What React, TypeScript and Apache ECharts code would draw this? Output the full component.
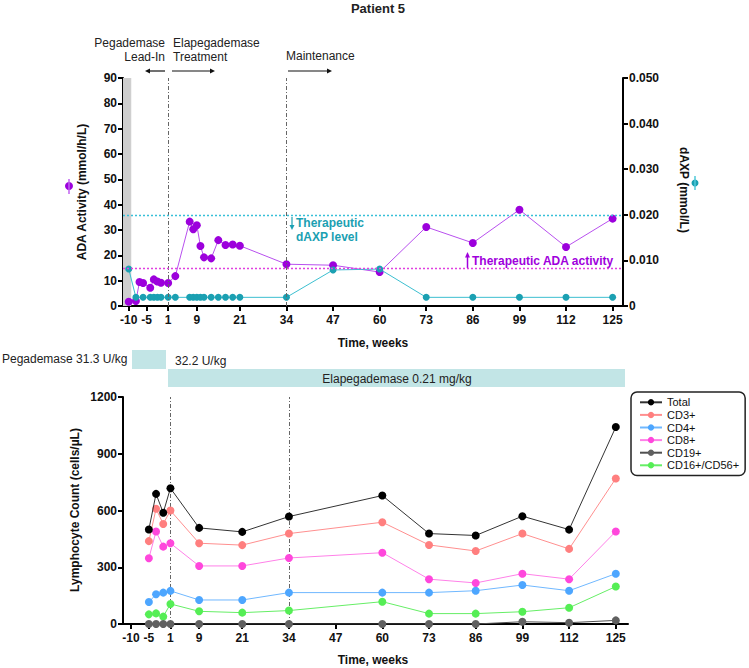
import React, { useEffect, useRef } from "react";
import * as echarts from "echarts";

const weekTicks = [-10, -5, 1, 9, 21, 34, 47, 60, 73, 86, 99, 112, 125];

const adaWeeks = [-10, -8, -7, -6, -4, -3, -2, -1, 1, 3, 7, 8, 9, 10, 11, 13, 15, 17, 19, 21, 34, 47, 60, 73, 86, 99, 112, 125];
const adaValues = [1.7, 2.0, 9.5, 9.1, 7.2, 10.5, 9.7, 9.2, 9.1, 11.8, 33.3, 30.3, 31.9, 23.7, 19.2, 18.8, 26.0, 24.1, 24.3, 23.8, 16.5, 16.1, 13.4, 31.2, 24.9, 38.0, 23.3, 34.5];

const daxpWeeks = [-10, -8, -6, -4, -3, -2, -1, 1, 3, 7, 8, 9, 10, 11, 13, 15, 17, 19, 21, 34, 47, 60, 73, 86, 99, 112, 125];
const daxpValues = [0.0081, 0.0019, 0.0019, 0.0019, 0.0019, 0.0019, 0.0019, 0.0019, 0.0019, 0.0019, 0.0019, 0.0019, 0.0019, 0.0019, 0.0019, 0.0019, 0.0019, 0.0019, 0.0019, 0.0019, 0.0079, 0.0081, 0.0019, 0.0019, 0.0019, 0.0019, 0.0019];

const lymWeeks = [-5, -3, -1, 1, 9, 21, 34, 60, 73, 86, 99, 112, 125];
const totalCounts = [500, 688, 588, 718, 508, 487, 568, 679, 478, 468, 570, 499, 1041];
const cd3Counts = [438, 609, 529, 600, 427, 417, 478, 538, 418, 386, 478, 397, 769];
const cd4Counts = [116, 157, 166, 175, 127, 127, 166, 166, 166, 176, 206, 176, 266];
const cd8Counts = [348, 489, 409, 427, 307, 307, 349, 377, 237, 217, 266, 237, 489];
const cd19Counts = [0, 0, 0, 0, 0, 0, 0, 0, 0, 0, 12, 7, 19];
const cd16Counts = [51, 56, 39, 106, 67, 60, 71, 118, 55, 55, 65, 86, 198];

const lymSeries = [
  { name: "Total", data: totalCounts, color: "#000000", line: "#333333" },
  { name: "CD3+", data: cd3Counts, color: "#ff7f7f", line: "#ff8f8f" },
  { name: "CD4+", data: cd4Counts, color: "#4da6ff", line: "#70b8ff" },
  { name: "CD8+", data: cd8Counts, color: "#ff47dc", line: "#ff80e8" },
  { name: "CD19+", data: cd19Counts, color: "#606060", line: "#505050" },
  { name: "CD16+/CD56+", data: cd16Counts, color: "#55ee55", line: "#66ee66" },
];

const FONT = "'Liberation Sans Narrow', 'Liberation Sans', Arial, sans-serif";
const FONT2 = "'Liberation Sans', Arial, sans-serif";

const zip = (xs: number[], ys: number[]) => xs.map((x, i) => [x, ys[i]]);

export default function App() {
  const ref = useRef<HTMLDivElement>(null);
  useEffect(() => {
    if (!ref.current) return;
    const chart = echarts.init(ref.current, null, { renderer: "svg" });
    const axisLabelStyle = { fontFamily: FONT, fontWeight: "bold" as const, fontSize: 12, color: "#111" };
    const vline = (x: number) => ({ xAxis: x });
    const dashDot = { type: [4, 2, 1, 2], color: "#666", width: 1 };
    const xAxisCommon = {
      type: "value",
      axisLine: { show: true, onZero: false, lineStyle: { color: "#000", width: 2 } },
      axisTick: { show: true, customValues: weekTicks, length: 5, lineStyle: { color: "#000", width: 2 } },
      axisLabel: { ...axisLabelStyle, customValues: weekTicks, margin: 8 },
      splitLine: { show: false },
    };
    const yCommon = {
      type: "value",
      axisLine: { show: true, onZero: false, lineStyle: { color: "#000", width: 2 } },
      axisTick: { show: true, length: 5, lineStyle: { color: "#000", width: 2 } },
      axisLabel: { ...axisLabelStyle, margin: 6, formatter: (v: number) => String(v) },
      splitLine: { show: false },
    };
    const option: any = {
      animation: false,
      title: {
        text: "Patient 5",
        left: 373,
        top: -3,
        textAlign: "center",
        textStyle: { fontFamily: FONT2, fontSize: 13, fontWeight: "bold", color: "#222" },
      },
      legend: {
        data: lymSeries.map((s) => s.name),
        orient: "vertical",
        left: 631,
        top: 392,
        itemGap: 0,
        itemWidth: 22,
        itemHeight: 8,
        padding: [4, 6, 4, 8],
        borderColor: "#222",
        borderWidth: 1.5,
        borderRadius: 6,
        textStyle: { fontFamily: FONT2, fontSize: 11, color: "#111", lineHeight: 12.6 },
      },
      grid: [
        { left: 123, top: 78, width: 500, height: 228 },
        { left: 123, top: 397, width: 505, height: 227 },
      ],
      xAxis: [
        { ...xAxisCommon, gridIndex: 0, min: -11.6, max: 127.9 },
        { ...xAxisCommon, gridIndex: 1, min: -12.2, max: 128.4 },
      ],
      yAxis: [
        { ...yCommon, gridIndex: 0, min: 0, max: 90, interval: 10 },
        {
          ...yCommon,
          gridIndex: 0,
          position: "right",
          min: 0,
          max: 0.05,
          interval: 0.01,
          axisLabel: { ...axisLabelStyle, margin: 6, formatter: (v: number) => (v === 0 ? "0" : v.toFixed(3)) },
        },
        { ...yCommon, gridIndex: 1, min: 0, max: 1200, interval: 300 },
      ],
      series: [
        {
          name: "ADA",
          type: "line",
          xAxisIndex: 0,
          yAxisIndex: 0,
          data: zip(adaWeeks, adaValues),
          symbol: "circle",
          symbolSize: 8,
          itemStyle: { color: "#9c00dc" },
          lineStyle: { color: "#b850ee", width: 1 },
          markArea: {
            silent: true,
            itemStyle: { color: "#cfcfcf" },
            data: [[{ xAxis: -11.6 }, { xAxis: -9.3 }]],
          },
          markLine: {
            silent: true,
            symbol: "none",
            label: { show: false },
            data: [
              { ...vline(1), lineStyle: dashDot },
              { ...vline(34), lineStyle: dashDot },
              { yAxis: 15, lineStyle: { type: [2, 2], color: "#e040e0", width: 1.4 } },
              { yAxis: 36, lineStyle: { type: [2, 2], color: "#38c0d8", width: 1.4 } },
            ],
          },
          z: 3,
        },
        {
          name: "dAXP",
          type: "line",
          xAxisIndex: 0,
          yAxisIndex: 1,
          data: zip(daxpWeeks, daxpValues),
          symbol: "circle",
          symbolSize: 7,
          itemStyle: { color: "#1ba0b2" },
          lineStyle: { color: "#3cbfd0", width: 1 },
          z: 4,
        },
        ...lymSeries.map((s, i) => ({
          name: s.name,
          type: "line",
          xAxisIndex: 1,
          yAxisIndex: 2,
          data: zip(lymWeeks, s.data),
          symbol: "circle",
          symbolSize: 8,
          itemStyle: { color: s.color },
          lineStyle: { color: s.line, width: 1 },
          z: 10 - i,
          ...(i === 0
            ? {
                markLine: {
                  silent: true,
                  symbol: "none",
                  label: { show: false },
                  data: [
                    { ...vline(1), lineStyle: dashDot },
                    { ...vline(34), lineStyle: dashDot },
                  ],
                },
              }
            : {}),
        })),
      ],
      graphic: [
        // top annotations
        { type: "text", x: 165, y: 36, style: { text: "Pegademase\nLead-In", align: "right", font: `12px ${FONT2}`, fill: "#222", lineHeight: 14 } },
        { type: "text", x: 173, y: 36, style: { text: "Elapegademase\nTreatment", align: "left", font: `12px ${FONT2}`, fill: "#222", lineHeight: 14 } },
        { type: "text", x: 286, y: 50, style: { text: "Maintenance", align: "left", font: `12px ${FONT2}`, fill: "#222" } },
        { type: "line", shape: { x1: 165, y1: 71, x2: 149, y2: 71 }, style: { stroke: "#111", lineWidth: 1.2 } },
        { type: "polygon", shape: { points: [[145, 71], [150, 68.5], [150, 73.5]] }, style: { fill: "#111" } },
        { type: "line", shape: { x1: 172, y1: 71, x2: 211, y2: 71 }, style: { stroke: "#111", lineWidth: 1.2 } },
        { type: "polygon", shape: { points: [[215, 71], [210, 68.5], [210, 73.5]] }, style: { fill: "#111" } },
        { type: "line", shape: { x1: 288, y1: 71, x2: 328, y2: 71 }, style: { stroke: "#111", lineWidth: 1.2 } },
        { type: "polygon", shape: { points: [[332, 71], [327, 68.5], [327, 73.5]] }, style: { fill: "#111" } },
        // axis names
        { type: "text", x: 82, y: 192, rotation: Math.PI / 2, style: { text: "ADA Activity (mmol/h/L)", align: "center", verticalAlign: "middle", font: `bold 12px ${FONT2}`, fill: "#111" } },
        { type: "circle", shape: { cx: 69, cy: 186, r: 4 }, style: { fill: "#9c00dc" } },
        { type: "line", shape: { x1: 69, y1: 179, x2: 69, y2: 194 }, style: { stroke: "#c060f0", lineWidth: 1.5 } },
        { type: "text", x: 684, y: 190, rotation: -Math.PI / 2, style: { text: "dAXP (mmol/L)", align: "center", verticalAlign: "middle", font: `bold 12px ${FONT2}`, fill: "#111" } },
        { type: "circle", shape: { cx: 695, cy: 183, r: 3.5 }, style: { fill: "#1ba0b2" } },
        { type: "line", shape: { x1: 695, y1: 176, x2: 695, y2: 190 }, style: { stroke: "#50c8d8", lineWidth: 1.5 } },
        { type: "text", x: 75, y: 510, rotation: Math.PI / 2, style: { text: "Lymphocyte Count (cells/µL)", align: "center", verticalAlign: "middle", font: `bold 12px ${FONT2}`, fill: "#111" } },
        { type: "text", x: 373, y: 343, style: { text: "Time, weeks", align: "center", verticalAlign: "middle", font: `bold 12px ${FONT}`, fill: "#111" } },
        { type: "text", x: 373, y: 660, style: { text: "Time, weeks", align: "center", verticalAlign: "middle", font: `bold 12px ${FONT}`, fill: "#111" } },
        // therapeutic annotations
        { type: "line", shape: { x1: 292, y1: 217, x2: 292, y2: 227 }, style: { stroke: "#1ba0b2", lineWidth: 1.2 } },
        { type: "polygon", shape: { points: [[292, 230], [289.5, 225], [294.5, 225]] }, style: { fill: "#1ba0b2" } },
        { type: "text", x: 296, y: 223, style: { text: "Therapeutic", verticalAlign: "middle", font: `bold 12px ${FONT2}`, fill: "#1ba0b2" } },
        { type: "text", x: 296, y: 237, style: { text: "dAXP level", verticalAlign: "middle", font: `bold 12px ${FONT2}`, fill: "#1ba0b2" } },
        { type: "line", shape: { x1: 467.5, y1: 257, x2: 467.5, y2: 268 }, style: { stroke: "#a000dc", lineWidth: 1.5 } },
        { type: "polygon", shape: { points: [[467.5, 252], [465, 257.5], [470, 257.5]] }, style: { fill: "#a000dc" } },
        { type: "text", x: 472, y: 261, style: { text: "Therapeutic ADA activity", verticalAlign: "middle", font: `bold 12px ${FONT2}`, fill: "#a000dc" } },
        // dosing bars
        { type: "text", x: 2, y: 359, style: { text: "Pegademase 31.3 U/kg", verticalAlign: "middle", font: `12px ${FONT}`, fill: "#222" } },
        { type: "rect", shape: { x: 132, y: 350, width: 34, height: 19 }, style: { fill: "#c2e5e6" } },
        { type: "text", x: 175, y: 361, style: { text: "32.2 U/kg", verticalAlign: "middle", font: `12px ${FONT}`, fill: "#222" } },
        { type: "rect", shape: { x: 168, y: 369, width: 457, height: 18 }, style: { fill: "#c2e5e6" } },
        { type: "text", x: 397, y: 378.5, style: { text: "Elapegademase 0.21 mg/kg", align: "center", verticalAlign: "middle", font: `12px ${FONT}`, fill: "#222" } },
      ],
    };
    chart.setOption(option);
    return () => chart.dispose();
  }, []);
  return <div ref={ref} style={{ width: 749, height: 668, position: "absolute", left: 0, top: 0 }} />;
}
